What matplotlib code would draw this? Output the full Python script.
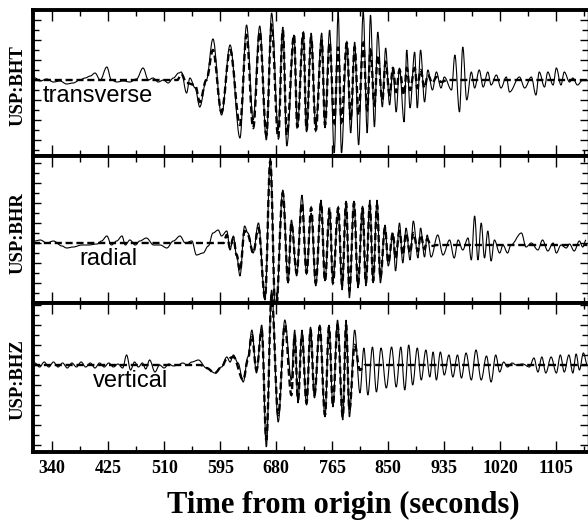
import matplotlib
matplotlib.use("Agg")
import matplotlib.pyplot as plt
from matplotlib.ticker import MultipleLocator
from matplotlib.path import Path
from matplotlib.patches import PathPatch

# ---------------- data (time in s, amplitude in arbitrary units) ----------------
tick_values = [340, 425, 510, 595, 680, 765, 850, 935, 1020, 1105]
channel_names = ["USP:BHT", "USP:BHR", "USP:BHZ"]
component_names = ["transverse", "radial", "vertical"]

# transverse: observed (solid) -- successive peaks / troughs
t_T_obs = [314,322,332,342,352,362,372,382,390,398,405,413,423,430,438,448,458,468,478,486,
           493,501,509,516,524,532,536,544,549,557,564,574,584,597,610,625,635,645,655,665,
           673,683,690,696,707,712,721,726,733,740,749,754,761,768,774,779,787,793,799,805,
           812,818,823,829,834,841,846,852,857,862,867,874,878,883,890,894,899,905,910,917,
           923,930,935,946,951,958,963,969,976,981,988,994,1001,1006,1014,1021,1029,1034,1049,1057,
           1067,1074,1079,1087,1092,1100,1105,1112,1117,1125,1130,1137,1145,1152]
a_T_obs = [2,-1,1,-2,-1,-4,-3,0,2,4,7,0,13,0,-2,-1,-2,1,12,0,
           2,-2,0,-3,2,7,8,-13,2,-8,-27,0,41,-35,35,-58,55,-40,54,-60,
           67,-50,53,-66,45,-47,47,-52,47,-47,47,-48,50,-73,68,-73,38,-53,38,-65,
           68,-53,65,-47,48,-27,32,-25,12,-32,12,-42,30,-28,28,-28,30,-22,10,-10,
           8,-8,3,-10,25,-32,33,-20,8,-8,10,-7,8,-5,5,-8,3,-12,3,-8,
           3,-15,8,-7,8,-5,12,-5,8,-2,2,-5,0,0]
# transverse: synthetic (dashed)
t_T_syn = [311,530,536,544,557,564,574,584,597,610,625,635,645,655,665,673,683,690,696,707,
           712,721,726,733,740,749,754,761,768,774,779,787,793,799,805,812,818,823,829,834,
           841,846,852,857,862,867,874,878,883,890,894,899,905,910,917,923,930,940,1152]
a_T_syn = [0,0,6,-3,-5,-22,0,30,-32,30,-45,45,-48,48,-55,55,-58,50,-55,45,
           -47,47,-50,43,-50,40,-45,37,-43,33,-42,37,-40,33,-35,37,-30,30,-25,25,
           -20,18,-15,12,-12,10,-15,12,-10,12,-8,10,-8,5,-3,3,-2,0,0]

# radial: observed (solid)
t_R_obs = [314,322,332,342,355,362,372,385,395,408,415,423,430,438,446,451,458,466,473,483,
           494,504,514,524,534,542,552,559,569,577,584,592,597,605,610,615,620,625,632,637,
           645,653,663,671,679,690,698,
           703,711,719,726,733,740,748,754,761,766,774,780,786,791,798,804,811,816,822,827,
           833,838,845,850,857,861,867,872,877,883,888,895,899,905,909,915,925,933,943,950,
           956,963,971,976,981,986,991,996,1001,1006,1011,1019,1024,1031,1036,1052,1059,1067,1077,1084,
           1092,1100,1105,1112,1120,1125,1132,1140,1145,1150]
a_R_obs = [2,3,0,2,-3,-5,-4,-2,-2,-1,2,7,-2,2,7,-2,3,-2,2,5,
           -2,-2,-5,2,7,0,2,-12,-10,-3,10,13,7,12,-7,7,-13,-33,17,10,
           -10,20,-57,85,-77,53,-40,
           23,-33,48,-30,30,-43,43,-38,33,-38,33,-47,42,-55,42,-45,37,-43,43,-40,
           43,-40,18,-23,10,-28,20,-20,15,-17,22,-15,15,-14,8,-14,8,-12,3,-15,
           3,-7,5,-17,27,-17,20,-15,12,-18,3,-10,-2,-10,-2,10,-4,0,-7,3,
           -8,0,-10,-2,-5,-1,-8,2,-4,3]
# radial: synthetic (dashed)
t_R_syn = [311,600,605,610,615,620,625,632,637,645,653,663,671,679,690,698,703,711,719,726,
           733,740,748,754,761,766,774,780,786,791,798,804,811,816,822,827,833,838,845,850,
           857,861,867,872,877,883,888,895,899,905,909,915,925,1152]
a_R_syn = [0,0,8,-5,5,-12,-28,12,8,-10,15,-55,82,-75,50,-38,20,-30,40,-30,
           35,-40,40,-38,35,-40,35,-42,40,-48,40,-42,35,-40,38,-38,38,-35,15,-20,
           10,-15,12,-12,10,-10,10,-8,8,-6,4,-3,-2,-2]

# vertical: observed (solid)
t_Z_obs = [314,321,328,335,342,349,356,363,370,377,384,391,398,405,412,419,426,433,440,447,
           453,459,465,471,477,482,488,496,503,510,517,524,531,538,545,552,562,574,587,597,
           605,610,615,622,630,637,643,650,658,665,673,683,693,703,708,
           713,719,726,732,738,746,754,760,766,773,781,786,791,799,807,813,819,826,832,839,
           847,855,862,869,875,881,887,894,900,907,913,918,923,929,935,942,948,955,961,968,
           976,983,991,999,1006,1013,1019,1025,1031,1038,1044,1054,1064,1071,1077,1083,1089,1097,1105,1111,
           1117,1124,1130,1135,1140,1146,1152]
a_Z_obs = [2,-2,3,-2,3,-2,2,-3,2,-2,3,-2,2,-3,2,-2,2,-2,1,-3,
           10,-5,3,-2,2,-4,5,-7,0,-3,1,-1,0,2,0,3,5,-3,-8,-2,
           8,3,10,2,-17,8,35,-8,40,-82,75,-57,45,-15,35,
           -38,35,-40,38,-33,40,-52,40,-42,45,-55,45,-52,35,-28,17,-30,18,-27,17,
           -23,18,-22,18,-25,20,-20,17,-15,15,-12,13,-15,13,-10,10,-12,10,-13,12,
           -15,15,-15,9,-17,10,-7,3,-2,2,0,1,-2,7,-7,8,-8,8,-8,10,
           -7,10,-8,11,-5,12,0]
# vertical: synthetic (dashed)
t_Z_syn = [311,565,574,587,597,605,615,630,637,643,650,658,665,673,683,693,703,708,713,719,
           726,732,738,746,754,760,766,773,781,786,791,799,807,815,1152]
a_Z_syn = [0,0,-3,-8,-2,6,8,-15,5,30,-5,35,-75,70,-50,40,-30,30,-35,30,
           -38,35,-30,38,-50,38,-40,40,-52,40,-45,20,-5,0,0]


def wave_path(t, a):
    """Path through the given extrema, drawn with horizontal tangents at each one."""
    verts = [(t[0], a[0])]
    codes = [Path.MOVETO]
    for k in range(1, len(t)):
        dt = t[k] - t[k - 1]
        verts += [(t[k - 1] + 0.36 * dt, a[k - 1]), (t[k] - 0.36 * dt, a[k]), (t[k], a[k])]
        codes += [Path.CURVE4] * 3
    return Path(verts, codes)


# ---------------- figure ----------------
W, H = 588, 524
fig = plt.figure(figsize=(W / 100, H / 100), dpi=100)


def fx(px):
    return px / W


def fy(py):
    return 1 - py / H


panels = [
    dict(top=10, bot=156, ylim=(-76, 70), obs=(t_T_obs, a_T_obs), syn=(t_T_syn, a_T_syn), lx=326),
    dict(top=156, bot=303, ylim=(-60, 87), obs=(t_R_obs, a_R_obs), syn=(t_R_syn, a_R_syn), lx=382),
    dict(top=303, bot=452, ylim=(-87, 62), obs=(t_Z_obs, a_Z_obs), syn=(t_Z_syn, a_Z_syn), lx=402),
]
label_y = [86, 233, 380]
xlim = (311, 1153)

tick_font = dict(family="Liberation Serif", weight="bold", size=13)

for i, p in enumerate(panels):
    ax = fig.add_axes([fx(33), fy(p["bot"]), fx(588) - fx(33), (p["bot"] - p["top"]) / H])
    ax.set_xlim(*xlim)
    ax.set_ylim(*p["ylim"])
    ax.add_patch(PathPatch(wave_path(*p["obs"]), fill=False, edgecolor="black", lw=0.8,
                           clip_on=False, zorder=3))
    ax.add_patch(PathPatch(wave_path(*p["syn"]), fill=False, edgecolor="black", lw=1.7,
                           linestyle=(0, (3.0, 1.6)), clip_on=False, zorder=4))
    ax.text(p["lx"], -22, component_names[i],
            family="Liberation Sans", fontsize=17, va="baseline", ha="left", zorder=5)
    for s in ax.spines.values():
        s.set_linewidth(2.8)
    ax.spines["right"].set_linewidth(1.0)
    ax.set_xticks(tick_values)
    ax.xaxis.set_minor_locator(MultipleLocator(42.5))
    ax.yaxis.set_major_locator(MultipleLocator(20))
    ax.yaxis.set_minor_locator(MultipleLocator(10))
    ax.tick_params(axis="x", which="major", direction="in", top=True, bottom=True,
                   length=8, width=1.0)
    ax.tick_params(axis="x", which="minor", direction="in", top=True, bottom=True,
                   length=4.5, width=1.0)
    ax.tick_params(axis="y", which="major", direction="in", left=True, right=True,
                   length=6, width=1.0, labelleft=False)
    ax.tick_params(axis="y", which="minor", direction="in", left=True, right=True,
                   length=4, width=1.0)
    if i < 2:
        ax.tick_params(axis="x", labelbottom=False)
    else:
        ax.set_xticklabels([str(v) for v in tick_values], fontdict=tick_font)
        ax.tick_params(axis="x", pad=6)
    fig.text(fx(18), fy(label_y[i]), channel_names[i], rotation=90, ha="center", va="center",
             family="Liberation Serif", weight="bold", fontsize=13.5)

fig.text(fx(343), fy(505), "Time from origin (seconds)", ha="center", va="center",
         family="Liberation Serif", weight="bold", fontsize=22)

fig.savefig("out.png", dpi=100)
